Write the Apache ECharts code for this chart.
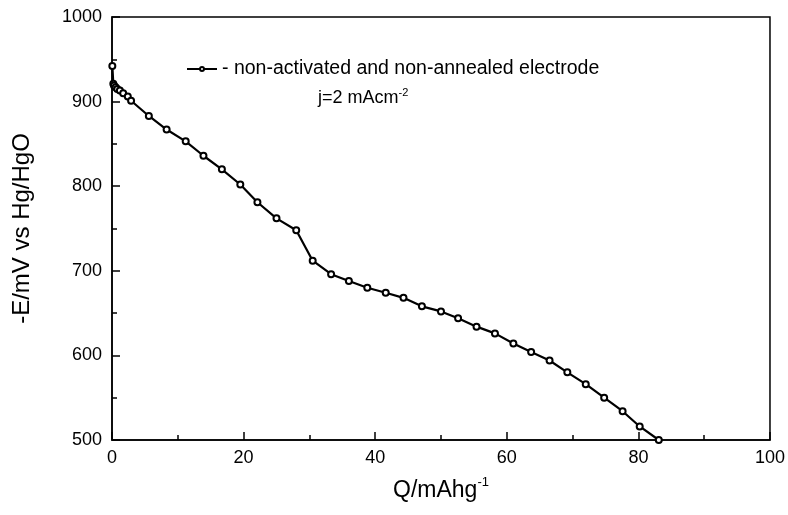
<!DOCTYPE html>
<html>
<head>
<meta charset="utf-8">
<script src="https://cdn.jsdelivr.net/npm/echarts@6/dist/echarts.min.js"></script>
<style>
  html, body { margin: 0; padding: 0; background: #fff; }
  #chart { width: 788px; height: 515px; }
</style>
</head>
<body>
<div id="chart"></div>
<script>
// 放电曲线数据 Q (mAh/g) 与 -E (mV)
var qValues = [0.05, 0.2, 0.3, 0.55, 0.8, 1.2, 1.7, 2.4, 2.9, 5.6, 8.3, 11.2, 13.9, 16.7, 19.5,
  22.1, 25.0, 28.0, 30.5, 33.3, 36.0, 38.8, 41.6, 44.3, 47.1, 50.0, 52.6, 55.4, 58.2,
  61.0, 63.7, 66.5, 69.2, 72.0, 74.8, 77.6, 80.2, 83.1];
var eValues = [942, 921, 919, 917, 915, 913, 910, 906, 901, 883, 867, 853, 836, 820, 802,
  781, 762, 748, 712, 696, 688, 680, 674, 668, 658, 652, 644, 634, 626,
  614, 604, 594, 580, 566, 550, 534, 516, 500];
var seriesName = '- non-activated and non-annealed electrode';
var noteText = 'j=2 mAcm';

var font = '"Liberation Sans", Arial, sans-serif';
var points = qValues.map(function (q, i) { return [q, eValues[i]]; });

var myChart = echarts.init(document.getElementById('chart'));
myChart.setOption({
    animation: false,
    backgroundColor: '#fff',
    grid: {
        left: 112,
        right: 16,
        top: 17,
        bottom: 75,
        show: true,
        borderColor: '#000',
        borderWidth: 1.5,
        containLabel: false
    },
    legend: {
        data: [seriesName],
        left: 181,
        top: 54,
        itemWidth: 30,
        itemHeight: 5,
        itemGap: 4,
        textStyle: { color: '#000', fontSize: 19.5, fontFamily: font }
    },
    graphic: [{
        type: 'text',
        left: 318,
        top: 87,
        style: {
            text: '{a|' + noteText + '}{s|-2}',
            rich: {
                a: { fontSize: 18, fontFamily: font, fill: '#000', lineHeight: 22 },
                s: { fontSize: 11, fontFamily: font, fill: '#000', verticalAlign: 'top', lineHeight: 22 }
            }
        }
    }],
    xAxis: {
        type: 'value',
        min: 0,
        max: 100,
        interval: 20,
        name: '{a|Q/mAhg}{s|-1}',
        nameLocation: 'middle',
        nameGap: 36,
        nameTextStyle: {
            rich: {
                a: { fontSize: 23, fontFamily: font, color: '#000', lineHeight: 30 },
                s: { fontSize: 13, fontFamily: font, color: '#000', verticalAlign: 'top', lineHeight: 30 }
            }
        },
        axisLine: { lineStyle: { color: '#000', width: 1.5 } },
        axisTick: { inside: true, length: 8, lineStyle: { color: '#000', width: 1.5 } },
        minorTick: { show: true, splitNumber: 2, length: 5, lineStyle: { color: '#000', width: 1.5 } },
        splitLine: { show: false },
        axisLabel: { color: '#000', fontSize: 18, fontFamily: font, margin: 9 }
    },
    yAxis: {
        type: 'value',
        min: 500,
        max: 1000,
        interval: 100,
        name: '-E/mV vs Hg/HgO',
        nameLocation: 'middle',
        nameGap: 78,
        nameTextStyle: { color: '#000', fontSize: 24, fontFamily: font },
        axisLine: { show: true, lineStyle: { color: '#000', width: 1.5 } },
        axisTick: { show: true, inside: true, length: 8, lineStyle: { color: '#000', width: 1.5 } },
        minorTick: { show: true, splitNumber: 2, length: 5, lineStyle: { color: '#000', width: 1.5 } },
        splitLine: { show: false },
        axisLabel: {
            color: '#000', fontSize: 18, fontFamily: font, margin: 10,
            formatter: function (v) { return String(v); }
        }
    },
    series: [{
        name: seriesName,
        type: 'line',
        data: points,
        symbol: 'emptyCircle',
        symbolSize: 6,
        showAllSymbol: true,
        lineStyle: { color: '#000', width: 2.2 },
        itemStyle: { color: '#000', borderColor: '#000', borderWidth: 1 }
    }]
});
</script>
</body>
</html>
